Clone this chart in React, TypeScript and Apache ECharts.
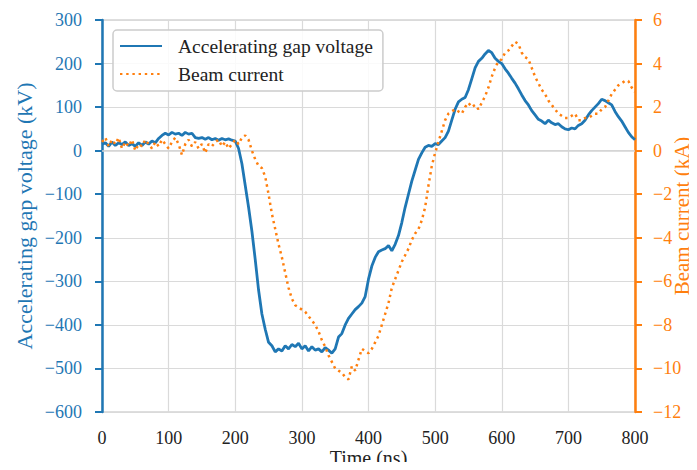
import React, { useEffect, useRef } from "react";
import * as echarts from "echarts";

// Accelerating gap voltage (kV) vs time (ns)
const voltageTime = [
  0, 5, 10, 15, 20, 25, 30, 35, 40, 45, 50, 55, 60, 65, 70, 75, 80, 85, 90, 95,
  100, 105, 110, 115, 120, 125, 130, 135, 140, 145, 150, 155, 160, 165, 170, 175, 180, 185, 190, 195,
  200, 205, 210, 215, 220, 225, 230, 235, 240, 245, 250, 255, 260, 265, 270, 275, 280, 285, 290, 295,
  300, 305, 310, 315, 320, 325, 330, 335, 340, 345, 350, 355, 360, 365, 370, 375, 380, 385, 390, 395,
  400, 405, 410, 415, 420, 425, 430, 435, 440, 445, 450, 455, 460, 465, 470, 475, 480, 485, 490, 495,
  500, 505, 510, 515, 520, 525, 530, 535, 540, 545, 550, 555, 560, 565, 570, 575, 580, 585, 590, 595,
  600, 605, 610, 615, 620, 625, 630, 635, 640, 645, 650, 655, 660, 665, 670, 675, 680, 685, 690, 695,
  700, 705, 710, 715, 720, 725, 730, 735, 740, 745, 750, 755, 760, 765, 770, 775, 780, 785, 790, 795, 800,
];
const voltage = [
  15, 18, 10, 20, 12, 18, 14, 20, 12, 16, 10, 18, 12, 20, 15, 22, 18, 28, 35, 40,
  36, 42, 38, 40, 35, 42, 38, 40, 30, 28, 30, 26, 30, 25, 28, 24, 28, 25, 27, 24,
  22, 5, -30, -80, -130, -185, -250, -320, -375, -410, -440, -448, -462, -455, -460, -448, -455, -445, -450, -442,
  -455, -448, -460, -450, -458, -455, -462, -452, -458, -465, -455, -428, -420, -400, -385, -375, -365, -358, -350, -335,
  -295, -265, -245, -232, -228, -225, -218, -230, -215, -195, -165, -130, -100, -70, -45, -20, -5, 8, 12, 10,
  16, 14, 22, 30, 45, 70, 95, 112, 118, 122, 140, 165, 190, 205, 212, 222, 230, 225, 212, 205,
  200, 188, 178, 166, 155, 142, 128, 115, 105, 92, 82, 72, 68, 62, 70, 64, 60, 62, 55, 50,
  48, 52, 50, 58, 62, 70, 82, 92, 100, 108, 118, 115, 110, 105, 90, 78, 68, 55, 42, 32, 25,
];

// Beam current (kA) vs time (ns)
const currentTime = voltageTime;
const current = [
  0.4, 0.6, 0.2, 0.5, 0.3, 0.6, 0.1, 0.4, 0.2, 0.5, 0.0, 0.3, 0.2, 0.5, 0.3, 0.1, 0.4, 0.2, 0.5, 0.3,
  0.1, 0.4, 0.6, 0.3, -0.2, 0.3, 0.5, 0.2, 0.4, 0.1, 0.3, -0.1, 0.3, 0.2, 0.4, 0.5, 0.2, 0.4, 0.1, 0.3,
  0.5, 0.3, 0.6, 0.7, 0.5, 0.0, -0.4, -0.7, -0.8, -1.2, -2.0, -2.9, -3.6, -4.3, -4.9, -5.6, -6.3, -6.8, -7.1, -7.2,
  -7.3, -7.4, -7.6, -7.8, -8.0, -8.3, -8.7, -9.0, -9.4, -9.7, -10.0, -10.1, -10.2, -10.4, -10.5, -9.9, -10.1, -9.6, -9.1, -9.2,
  -9.3, -9.1, -8.8, -8.5, -8.0, -7.5, -7.0, -6.3, -5.9, -5.5, -5.1, -4.8, -4.5, -4.1, -3.8, -3.6, -3.2, -2.6, -1.6, -0.7,
  -0.1, 0.4, 0.9, 1.4, 1.7, 1.8, 1.9, 1.8, 1.7, 2.0, 2.2, 2.0, 2.1, 1.9, 2.2, 2.5, 2.9, 3.4, 3.8, 4.1,
  4.2, 4.5, 4.6, 4.8, 5.0, 4.9, 4.5, 4.3, 4.2, 3.8, 3.4, 3.1, 2.8, 2.6, 2.3, 2.1, 1.9, 1.7, 1.6, 1.5,
  1.5, 1.6, 1.7, 1.4, 1.4, 1.5, 1.5, 1.6, 1.7, 1.7, 1.9, 2.0, 2.3, 2.6, 2.8, 3.0, 3.1, 3.2, 3.2, 2.9, 2.7,
];

const xTicks = { min: 0, max: 800, interval: 100 };
const voltageTicks = { min: -600, max: 300, interval: 100 };
const currentTicks = { min: -12, max: 6, interval: 2 };

const BLUE = "#1f77b4";
const ORANGE = "#ff7f0e";
const FONT = "Liberation Serif";
const minus = (v: number) => String(v).replace("-", "\u2212");

export default function App() {
  const ref = useRef<HTMLDivElement>(null);
  useEffect(() => {
    if (!ref.current) return;
    const chart = echarts.init(ref.current, undefined, { renderer: "svg" });
    chart.setOption({
      animation: false,
      backgroundColor: "#ffffff",
      textStyle: { fontFamily: FONT },
      grid: {
        left: 102,
        right: 62,
        top: 20,
        bottom: 58,
        outerBoundsMode: "none",
        containLabel: false,
        show: true,
        borderColor: "#d4d4d4",
        borderWidth: 1.5,
      },
      legend: {
        orient: "vertical",
        left: 113,
        top: 30,
        padding: [6, 10, 7, 6],
        itemWidth: 42,
        itemHeight: 20,
        itemGap: 8,
        backgroundColor: "rgba(255,255,255,0.85)",
        borderColor: "#cccccc",
        borderWidth: 1.5,
        borderRadius: 4,
        itemStyle: { opacity: 0, color: "rgba(0,0,0,0)", borderWidth: 0 },
        textStyle: {
          fontFamily: FONT,
          fontSize: 19.5,
          color: "#222222",
          padding: [0, 0, 0, 11],
        },
        data: ["Accelerating gap voltage", "Beam current"],
      },
      xAxis: {
        type: "value",
        ...xTicks,
        name: "Time (ns)",
        nameLocation: "middle",
        nameGap: 36,
        nameMoveOverlap: false,
        nameTextStyle: { fontFamily: FONT, fontSize: 20, lineHeight: 20, color: "#222222" },
        axisLine: { show: true, lineStyle: { color: "#d4d4d4", width: 1.5 } },
        axisTick: { show: false },
        axisLabel: {
          fontFamily: FONT,
          fontSize: 18,
          lineHeight: 18,
          color: "#222222",
          margin: 17,
          formatter: minus,
        },
        splitLine: { show: true, lineStyle: { color: "#dadada", width: 1.2 } },
      },
      yAxis: [
        {
          type: "value",
          position: "left",
          ...voltageTicks,
          name: "Accelerating gap voltage (kV)",
          nameLocation: "middle",
          nameGap: 67,
          nameMoveOverlap: false,
          nameTextStyle: { fontFamily: FONT, fontSize: 22, color: BLUE },
          axisLine: { show: true, lineStyle: { color: BLUE, width: 2.5 } },
          axisTick: { show: true, inside: false, length: 7, lineStyle: { color: BLUE, width: 2 } },
          axisLabel: { fontFamily: FONT, fontSize: 18, color: BLUE, margin: 20, formatter: minus },
          splitLine: { show: true, lineStyle: { color: "#dadada", width: 1.2 } },
        },
        {
          type: "value",
          position: "right",
          ...currentTicks,
          name: "Beam current (kA)",
          nameLocation: "middle",
          nameGap: 36,
          nameMoveOverlap: false,
          nameTextStyle: { fontFamily: FONT, fontSize: 21, lineHeight: 22, color: ORANGE },
          axisLine: { show: true, lineStyle: { color: ORANGE, width: 2.5 } },
          axisTick: { show: true, inside: false, length: 7, lineStyle: { color: ORANGE, width: 2 } },
          axisLabel: { fontFamily: FONT, fontSize: 18, color: ORANGE, margin: 18, formatter: minus },
          splitLine: { show: false },
        },
      ],
      series: [
        {
          name: "Accelerating gap voltage",
          type: "line",
          yAxisIndex: 0,
          showSymbol: false,
          symbol: "none",
          data: voltageTime.map((t, i) => [t, voltage[i]]),
          lineStyle: { color: BLUE, width: 2.8 },
          itemStyle: { color: BLUE },
          z: 3,
        },
        {
          name: "Beam current",
          type: "line",
          yAxisIndex: 1,
          showSymbol: false,
          symbol: "none",
          data: currentTime.map((t, i) => [t, current[i]]),
          lineStyle: { color: ORANGE, width: 2.5, type: [2.4, 3.8], cap: "butt" },
          itemStyle: { color: ORANGE },
          z: 4,
        },
      ],
    });
    return () => chart.dispose();
  }, []);
  return <div ref={ref} style={{ width: 697, height: 470, margin: -8 }} />;
}
